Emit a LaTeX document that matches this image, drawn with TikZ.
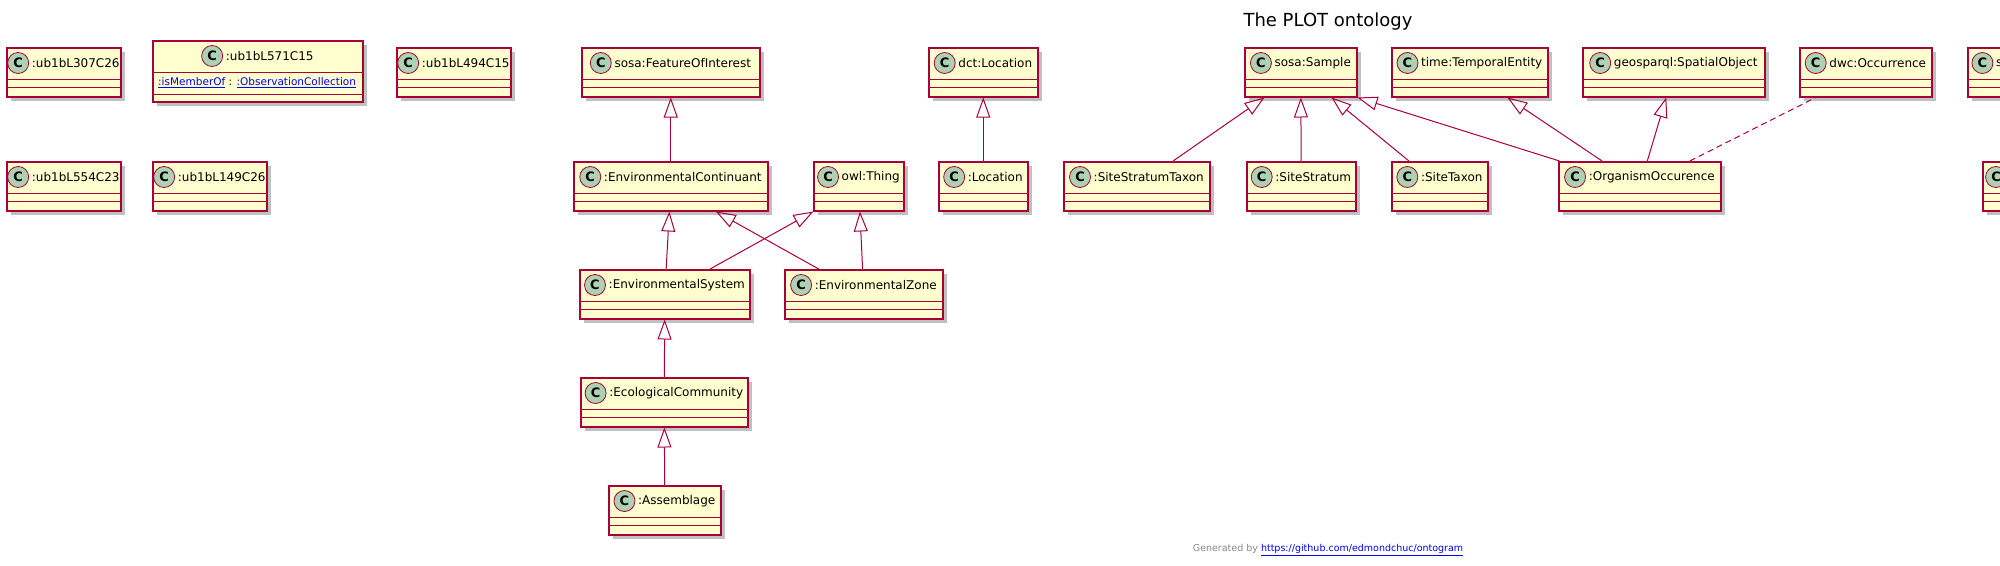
\documentclass[tikz,border=0pt]{standalone}
\usepackage{fontspec}
\setmainfont{DejaVu Sans}
\usepackage{tikz}
\usetikzlibrary{arrows.meta,shadows}
\definecolor{umlred}{HTML}{A80036}
\definecolor{umlfill}{HTML}{FEFECE}
\definecolor{umlcirc}{HTML}{ADD1B2}
\definecolor{linkblue}{HTML}{0000FF}
\definecolor{footgray}{HTML}{888888}
\tikzset{
  font={\fontsize{12pt}{14pt}\selectfont},
  umlbox/.style={draw=umlred, fill=umlfill, line width=1.5pt, anchor=north west,
    inner sep=0pt, minimum height=49pt,
    drop shadow={shadow xshift=4pt, shadow yshift=-4pt, fill=black!45, opacity=.55}},
  umlline/.style={draw=umlred, line width=1pt},
  classname/.style={inner sep=0pt},
  classicon/.style={circle, draw=umlred, fill=umlcirc, line width=.8pt, minimum size=21pt,
    inner sep=0pt, font={\fontsize{13pt}{14pt}\selectfont\bfseries}},
  gen/.style={umlline, -{Triangle[open, length=20pt, width=14pt, line width=1pt]}},
  dep/.style={umlline, dash pattern=on 6pt off 4pt},
  attrtext/.style={inner sep=0pt, font={\fontsize{10.5pt}{12pt}\selectfont}}}
% one class box: name, x, y (top left), width, label
\newcommand{\umlclass}[5]{%
  \node[umlbox, minimum width=#4pt] (#1) at (#2,#3) {};
  \draw[umlline] ([yshift=-32pt]#1.north west) -- ([yshift=-32pt]#1.north east);
  \draw[umlline] ([yshift=-40pt]#1.north west) -- ([yshift=-40pt]#1.north east);
  \node[classname] (#1-name) at ([xshift=12pt, yshift=-16pt]#1.north) {#5};
  \node[classicon] (#1-icon) at ([xshift=-13.5pt]#1-name.west) {C};}

\begin{document}
\begin{tikzpicture}[x=1pt, y=-1pt]
\useasboundingbox (0,0) rectangle (2000,565);
\clip (0,0) rectangle (2000,565);
\node[font={\fontsize{18pt}{20pt}\selectfont}] (title) at (1328,22) {The PLOT ontology};
% blank nodes
\umlclass{u307}{6}{47}{114}{:ub1bL307C26}
\node[umlbox, minimum width=210pt, minimum height=61pt] (u571) at (152,40) {};
\draw[umlline] ([yshift=-32pt]u571.north west) -- ([yshift=-32pt]u571.north east);
\draw[umlline] ([yshift=-54pt]u571.north west) -- ([yshift=-54pt]u571.north east);
\node[classname] (u571-name) at ([xshift=12pt, yshift=-16pt]u571.north) {:ub1bL571C15};
\node[classicon] (u571-icon) at ([xshift=-13.5pt]u571-name.west) {C};
\node[attrtext, anchor=west] (u571-attr) at ([xshift=6pt, yshift=-43pt]u571.north west)
  {\textcolor{linkblue}{\underline{:isMemberOf}} : \textcolor{linkblue}{\underline{:ObservationCollection}}};
\umlclass{u494}{396}{47}{114}{:ub1bL494C15}
\umlclass{u554}{6}{161}{114}{:ub1bL554C23}
\umlclass{u149}{152}{161}{114}{:ub1bL149C26}
% features
\umlclass{foi}{581}{47}{178}{sosa:FeatureOfInterest}
\umlclass{dctloc}{928}{47}{109}{dct:Location}
\umlclass{ec}{573}{161}{194}{:EnvironmentalContinuant}
\umlclass{owl}{813}{161}{90}{owl:Thing}
\umlclass{loc}{938}{161}{89}{:Location}
\umlclass{es}{579}{269}{170}{:EnvironmentalSystem}
\umlclass{ez}{784}{269}{158}{:EnvironmentalZone}
\umlclass{ecoc}{580}{377}{167}{:EcologicalCommunity}
\umlclass{asm}{608}{485}{112}{:Assemblage}
% samples
\umlclass{sample}{1244}{47}{112}{sosa:Sample}
\umlclass{te}{1391}{47}{156}{time:TemporalEntity}
\umlclass{so}{1582}{47}{182}{geosparql:SpatialObject}
\umlclass{dwc}{1799}{47}{132}{dwc:Occurrence}
\umlclass{sst}{1063}{161}{146}{:SiteStratumTaxon}
\umlclass{ss}{1246}{161}{109}{:SiteStratum}
\umlclass{st}{1391}{161}{96}{:SiteTaxon}
\umlclass{oo}{1558}{161}{162}{:OrganismOccurence}
% cut off at the right edge
\umlclass{cuta}{1967}{47}{39}{s}
\umlclass{cutb}{1982}{161}{31}{}
% subclass links
\draw[gen] (ec) -- (foi);
\draw[gen] (loc) -- (dctloc);
\draw[gen] (es) -- (ec);
\draw[gen] (ez) -- (ec);
\draw[gen] (es) -- (owl);
\draw[gen] (ez) -- (owl);
\draw[gen] (ecoc) -- (es);
\draw[gen] (asm) -- (ecoc);
\draw[gen] (sst) -- (sample);
\draw[gen] (ss) -- (sample);
\draw[gen] (st) -- (sample);
\draw[gen] (oo) -- (sample.south east);
\draw[gen] (oo) -- (te);
\draw[gen] (oo) -- (so);
\draw[dep] (oo) -- (dwc);
\node[font={\fontsize{9.5pt}{11pt}\selectfont}] (footer) at (1328,550)
  {\textcolor{footgray}{Generated by} \textcolor{linkblue}{\underline{https://github.com/edmondchuc/ontogram}}};
\end{tikzpicture}
\end{document}
